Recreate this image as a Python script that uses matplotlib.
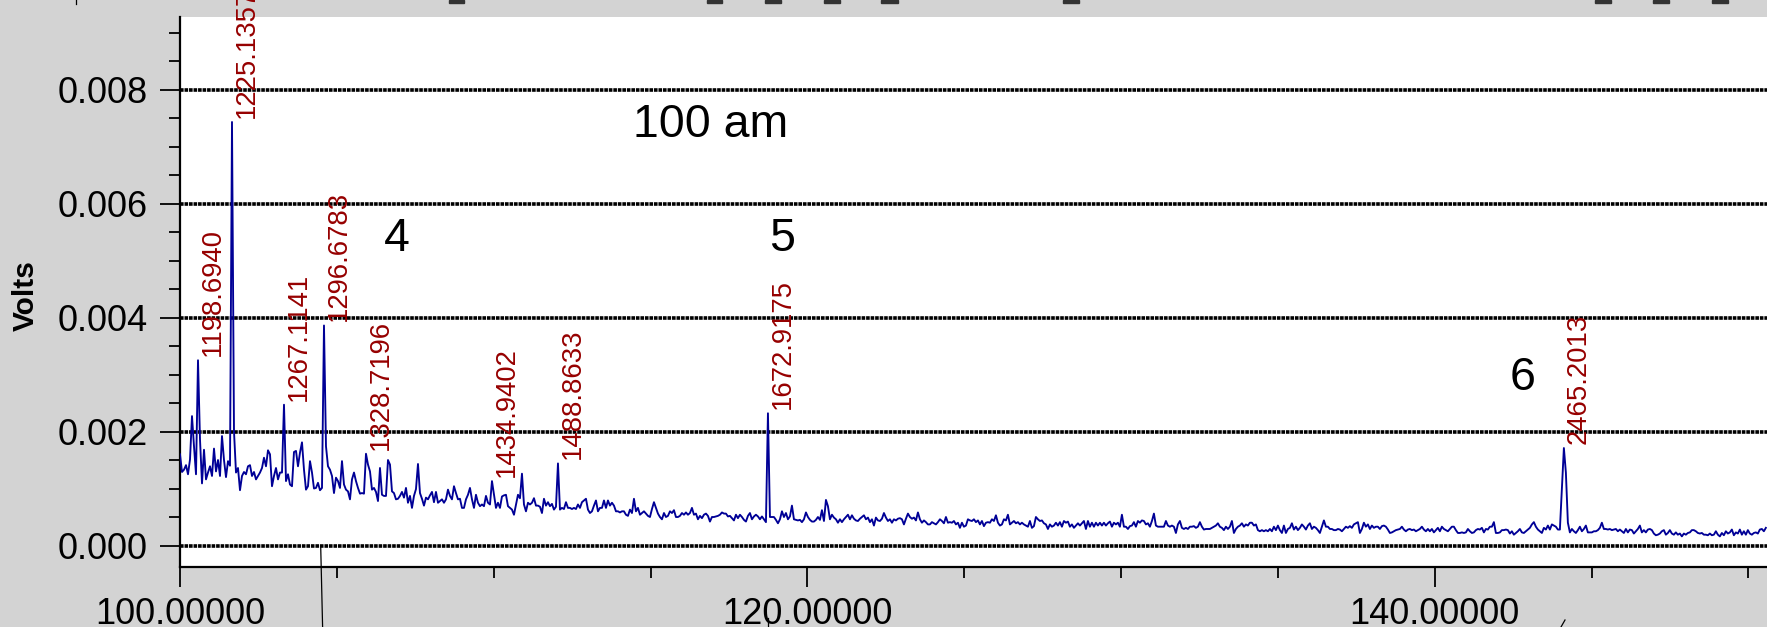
import numpy as np
import matplotlib
matplotlib.use('Agg')
import matplotlib.pyplot as plt
from matplotlib.ticker import MultipleLocator, FormatStrFormatter
from matplotlib import font_manager
from matplotlib.lines import Line2D
from matplotlib.patches import Rectangle

W, H = 1767, 627

# detector signal, in units of 1e-5 V, one sample every dt minutes from 100.0
volts_e5 = [
    160, 129, 133, 141, 125, 151, 227, 174, 125, 325,
    186, 109, 168, 116, 128, 139, 122, 170, 130, 150,
    122, 192, 150, 120, 148, 140, 743, 200, 128, 136,
    97, 122, 129, 125, 139, 141, 122, 129, 116, 122,
    128, 136, 154, 139, 167, 160, 104, 122, 136, 116,
    128, 128, 247, 113, 125, 107, 104, 164, 166, 139,
    163, 181, 133, 98, 104, 148, 128, 100, 101, 110,
    97, 101, 386, 174, 139, 133, 122, 92, 119, 113,
    101, 148, 107, 98, 95, 81, 116, 128, 113, 101,
    91, 92, 91, 161, 142, 130, 98, 101, 94, 78,
    136, 89, 87, 87, 150, 142, 95, 92, 81, 82,
    87, 94, 84, 101, 75, 87, 66, 87, 99, 143,
    92, 82, 70, 84, 81, 88, 94, 76, 94, 75,
    78, 81, 75, 81, 98, 87, 81, 104, 92, 81,
    82, 66, 66, 81, 89, 101, 81, 66, 89, 75,
    69, 72, 69, 87, 75,
    72, 113, 90, 66, 75, 66, 86, 88, 89, 69,
    66, 63, 54, 72, 89, 83, 126, 72, 60, 75,
    72, 75, 83, 70, 70, 68, 57, 82, 70, 76,
    69, 73, 63, 68, 144, 63, 66, 64, 76, 66,
    66, 64, 66, 64, 72, 66, 76, 79, 82, 63,
    57, 60, 70, 79, 60, 66, 66, 79, 66, 79,
    70, 75, 70, 60, 60, 58, 60, 60, 54, 52,
    63, 57, 82, 60, 66, 54, 57, 60, 56, 52,
    50, 64, 76, 66, 56, 50, 46, 57, 50, 52,
    60, 57, 62, 50, 50, 52, 57, 54, 58, 54,
    57, 66, 54, 56, 46, 52, 48, 54, 56, 52,
    42, 50, 50, 51, 52, 54, 58, 56, 56, 51,
    52, 48, 44, 54, 48, 54, 50, 45, 42, 52,
    57, 46, 51, 54, 51, 46, 51, 46, 41, 232,
    50, 50, 50, 45, 39, 46, 60, 50, 57, 46,
    51, 70, 46, 45, 44, 45, 41, 46, 58, 50,
    45, 42, 42, 45, 50, 45,
    62, 43, 80, 69, 46, 54, 49, 46, 40, 46,
    41, 46, 50, 54, 46, 53, 47, 44, 43, 47,
    50, 53, 46, 49, 41, 46, 35, 49, 44, 43,
    47, 57, 49, 43, 46, 40, 46, 44, 47, 48,
    46, 37, 47, 56, 50, 47, 49, 44, 58, 46,
    40, 44, 41, 37, 37, 41, 39, 37, 41, 46,
    43, 39, 50, 40, 41, 40, 43, 37, 40, 31,
    40, 33, 35, 46, 44, 43, 46, 41, 44, 37,
    43, 34, 40, 41, 40, 46, 43, 53, 40, 35,
    37, 46, 44, 54, 37, 40, 43, 39, 41, 37,
    40, 37, 35, 33, 43, 31, 34, 50, 46, 43,
    44, 39, 37, 29, 37, 33, 35, 40, 35, 41,
    33, 43, 40, 42, 33, 37, 31, 35, 39, 35,
    39, 43, 29, 43, 33, 40, 33, 40, 35, 40,
    35, 40, 35, 39, 42, 33, 40, 37, 40, 33,
    54, 33, 33, 29, 34, 35, 41, 33, 43, 40,
    44, 43, 37, 39, 33, 43, 56, 35, 33, 33,
    33, 33, 43, 35, 33, 35, 33, 22, 37, 43,
    31, 29, 31, 29, 33, 33, 34, 31, 33, 41,
    33, 28, 29, 29, 29, 31, 33, 35, 39, 33,
    31, 27, 33, 29, 33, 43, 22, 29, 33, 35,
    39, 33, 37, 35, 40, 40, 35, 37, 27, 25,
    27, 25, 27, 25, 29, 25, 33, 27, 35, 27,
    22, 35, 22, 29, 31,
    39, 28, 33, 27, 31, 37, 33, 28, 35, 39,
    29, 33, 31, 27, 22, 33, 44, 33, 33, 29,
    29, 27, 27, 29, 28, 25, 29, 33, 31, 34,
    31, 37, 39, 41, 22, 29, 40, 33, 37, 29,
    35, 31, 33, 33, 29, 34, 35, 33, 28, 22,
    23, 25, 27, 28, 29, 33, 28, 25, 28, 29,
    27, 28, 25, 27, 29, 33, 28, 25, 29, 25,
    29, 23, 27, 31, 25, 33, 29, 27, 25, 29,
    33, 33, 27, 22, 22, 23, 22, 23, 29, 25,
    22, 23, 27, 29, 28, 31, 23, 29, 28, 33,
    33, 41, 22, 22, 23, 27, 27, 28, 27, 21,
    25, 19, 22, 25, 29, 23, 22, 25, 28, 31,
    37, 41, 33, 28, 25, 22, 31, 28, 35, 28,
    37, 35, 33, 28, 28, 100, 171, 128, 40, 23,
    29, 25, 22, 27, 33, 25, 29, 35, 23, 23,
    23, 25, 25, 27, 31, 40, 29, 29, 28, 29,
    27, 28, 29, 25, 28, 25, 22, 29, 23, 28,
    27, 21, 25, 29, 35, 23, 27, 23, 28, 29,
    27, 21, 18, 19, 21, 25, 27, 19, 22, 27,
    21, 19, 23, 19, 21, 16, 21, 19, 22, 23,
    27, 27, 25, 22, 21, 22, 19, 19, 18, 21,
    18, 19, 25, 19, 16, 22, 18, 25, 21, 23,
    28, 18, 23, 21, 28, 19, 25, 19, 27, 21,
    19, 22, 23, 21, 28, 29, 25, 31,
]
t0 = 100.0
dt = 0.06375

peak_times = [100.574, 101.658, 103.315, 104.590, 105.929, 109.945, 112.049, 118.743, 144.115]
peak_labels = ['1198.6940', '1225.1357', '1267.1141', '1296.6783', '1328.7196',
               '1434.9402', '1488.8633', '1672.9175', '2465.2013']

notes = ['100 am', '4', '5', '6']
note_x = [114.45, 106.50, 118.78, 142.40]
note_y = [0.00717, 0.00517, 0.00517, 0.00273]

volts = np.array(volts_e5) * 1e-5
t = t0 + np.arange(len(volts)) * dt

names = {f.name for f in font_manager.fontManager.ttflist}
if 'Liberation Sans Narrow' in names:
    pk_family, pk_size = 'Liberation Sans Narrow', 22.5
    vl_family, vl_size = 'Liberation Sans Narrow', 25
else:
    pk_family, pk_size = 'Liberation Sans', 19.8
    vl_family, vl_size = 'Liberation Sans', 21.5

plt.rcParams['font.family'] = ['Liberation Sans', 'DejaVu Sans']

fig = plt.figure(figsize=(W / 100, H / 100), dpi=100, facecolor='#d3d3d3')
ax = fig.add_axes([180 / W, 60 / H, 1587 / W, 550 / H])
ax.set_facecolor('white')

ax.plot(t, volts, color='#000096', lw=1.35, zorder=3)

ax.set_xlim(100.0, 150.59)
ax.set_ylim(-0.000377, 0.009272)

ax.xaxis.set_major_locator(MultipleLocator(20))
ax.xaxis.set_minor_locator(MultipleLocator(5))
ax.xaxis.set_major_formatter(FormatStrFormatter('%.5f'))
ax.yaxis.set_major_locator(MultipleLocator(0.002))
ax.yaxis.set_minor_locator(MultipleLocator(0.0005))
ax.yaxis.set_major_formatter(FormatStrFormatter('%.3f'))

ax.yaxis.grid(True, which='major', color='black', lw=2.6, linestyle=(0, (1, 0.25)))
ax.set_axisbelow('line')

for s in ['top', 'right']:
    ax.spines[s].set_visible(False)
for s in ['left', 'bottom']:
    ax.spines[s].set_linewidth(1.6)

ax.tick_params(which='major', direction='out', length=14.7, width=1.3, labelsize=26)
ax.tick_params(which='minor', direction='out', length=8, width=1.3)
ax.tick_params(axis='y', pad=8.3)
ax.tick_params(axis='x', pad=7)

for pt, lab in zip(peak_times, peak_labels):
    k = np.abs(t - pt).argmin()
    y = volts[k - 2:k + 3].max()
    ax.annotate(lab, xy=(t[k], y), xytext=(1.5, 3), textcoords='offset points',
                rotation=90, ha='left', va='bottom', color='#960000',
                fontsize=pk_size, family=pk_family, annotation_clip=False, zorder=4)

for s, x, y in zip(notes, note_x, note_y):
    ax.text(x, y, s, fontsize=33.5, color='black', ha='left', va='baseline', zorder=5)

fig.text(26 / W, 1 - 296 / H, 'Volts', rotation=90, ha='center', va='center',
         fontsize=vl_size, family=vl_family, fontweight='bold')

# bits of other panels showing at the edges of the screenshot
for x0, x1 in [(449, 464), (707, 722), (765, 781), (824, 840), (881, 898),
               (1063, 1079), (1595, 1611), (1653, 1669), (1712, 1728)]:
    fig.patches.append(Rectangle((x0 / W, 1 - 3 / H), (x1 - x0) / W, 3 / H,
                                 transform=fig.transFigure, color='#333333'))
for xs, ys in [((76, 76), (0, 4)), ((320.7, 322.6), (546, 627)),
               ((768.4, 768.4), (618, 627)), ((1561, 1565), (627, 620))]:
    fig.add_artist(Line2D([x / W for x in xs], [1 - y / H for y in ys],
                          transform=fig.transFigure, color='black', lw=0.9))

fig.savefig('out.png', dpi=100, facecolor=fig.get_facecolor())
